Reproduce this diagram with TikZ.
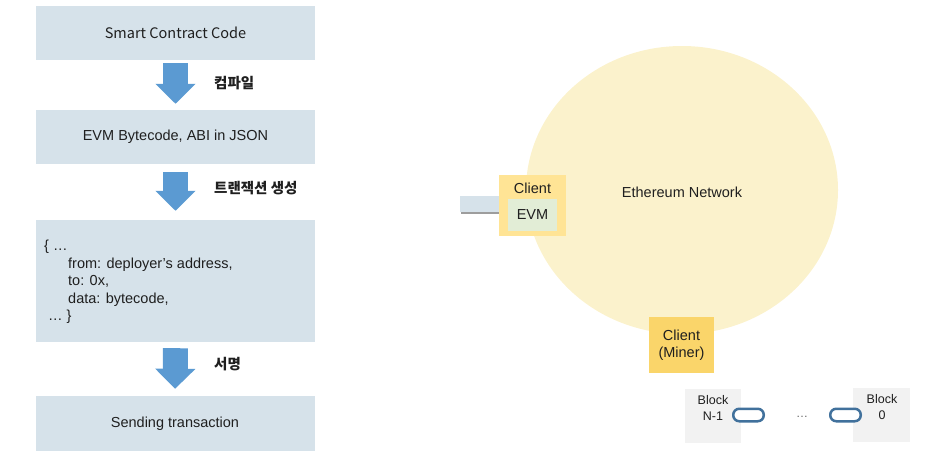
\documentclass[tikz,border=0pt]{standalone}
\usepackage{fontspec}
\setmainfont{Liberation Sans}
\newfontfamily\krfont{Noto Sans CJK KR}
\usetikzlibrary{arrows.meta,shadows,shapes.geometric}
\definecolor{boxblue}{HTML}{D6E2EA}
\definecolor{arrowblue}{HTML}{5B9AD2}
\definecolor{netyellow}{HTML}{FBF2CC}
\definecolor{clientgold}{HTML}{FFE495}
\definecolor{minergold}{HTML}{FAD56A}
\definecolor{evmgreen}{HTML}{E2EDD6}
\definecolor{blockgrey}{HTML}{F2F2F2}
\definecolor{linkblue}{HTML}{41719C}
\definecolor{textdark}{HTML}{1F1F1F}

\begin{document}
\begin{tikzpicture}[x=1pt,y=-1pt,
    every node/.style={text=textdark,inner sep=0pt,font=\fontsize{14.5}{17.5}\selectfont},
    stagebox/.style={fill=boxblue,minimum width=279pt,minimum height=54pt},
    flow/.style={line width=25pt,draw=arrowblue,-{Triangle[width=39pt,length=20pt]}},
    steplabel/.style={anchor=west,font=\krfont\bfseries\fontsize{14.5}{17.5}\selectfont},
    blockbox/.style={fill=blockgrey,minimum width=56pt,minimum height=54pt},
    chainlink/.style={draw=linkblue,line width=2.5pt,fill=white,rounded corners=6pt,
      minimum width=30.5pt,minimum height=12.5pt},
    blocklabel/.style={align=center,font=\fontsize{12.5}{16}\selectfont}]
    \useasboundingbox (0,0) rectangle (941,474);

    \node[stagebox] (code) at (175.5,33) {\krfont Smart Contract Code};
    \node[stagebox] (bytecode) at (175.5,137) {EVM Bytecode, ABI in JSON};
    \node[stagebox,minimum height=122pt] (txn) at (175.5,281) {};
    \node[anchor=north west,align=left] (txntext) at (44,240) {%
      \{ \ldots\\
      \hspace{24pt}from: deployer's address,\\
      \hspace{24pt}to: 0x,\\
      \hspace{24pt}data: bytecode,\\
      \hspace{4pt}\ldots\ \}};
    \node[stagebox,minimum height=55pt] (send) at (175,423.5) {Sending transaction};

    \draw[flow,shorten <=3pt,shorten >=6pt] (code.south) -- (bytecode.north);
    \draw[flow,shorten <=8pt,shorten >=9pt] (bytecode.south) -- (txn.north);
    \draw[flow,shorten <=6pt,shorten >=7pt] (txn.south) -- (send.north);
    \node[steplabel] (compile) at (214,83) {컴파일};
    \node[steplabel] (maketx) at (214,188) {트랜잭션 생성};
    \node[steplabel] (sign) at (214,364) {서명};

    \node[ellipse,fill=netyellow,minimum width=312pt,minimum height=288pt] (network) at (682,190) {};
    \node (netlabel) at (682,192) {Ethereum Network};

    \node[fill=boxblue,minimum width=39pt,minimum height=16pt,
      drop shadow={shadow xshift=1pt,shadow yshift=-2pt,fill=black!55,opacity=0.7}] (port) at (479.5,204) {};
    \node[fill=clientgold,minimum width=67pt,minimum height=61pt] (client) at (532.5,205.5) {};
    \node (clientlabel) at (532.5,188) {Client};
    \node[fill=evmgreen,minimum width=49pt,minimum height=32pt] (evm) at (532.5,215) {EVM};

    \node[fill=minergold,minimum width=65pt,minimum height=56pt,align=center,
      font=\fontsize{14.5}{17}\selectfont] (miner) at (681.5,345) {Client\\(Miner)};

    \node[blockbox] (blockn) at (713,416) {};
    \node[blocklabel] (blocknlabel) at (713,408) {Block\\N-1};
    \node[blockbox,minimum width=57pt] (blockzero) at (881.5,415) {};
    \node[blocklabel] (blockzerolabel) at (882,407) {Block\\0};
    \node[chainlink] (linkn) at (748.5,415) {};
    \node[chainlink] (linkzero) at (845.5,415) {};
    \node[text=black!60,font=\fontsize{12}{14}\selectfont] (gap) at (802,417) {\ldots};
\end{tikzpicture}
\end{document}
